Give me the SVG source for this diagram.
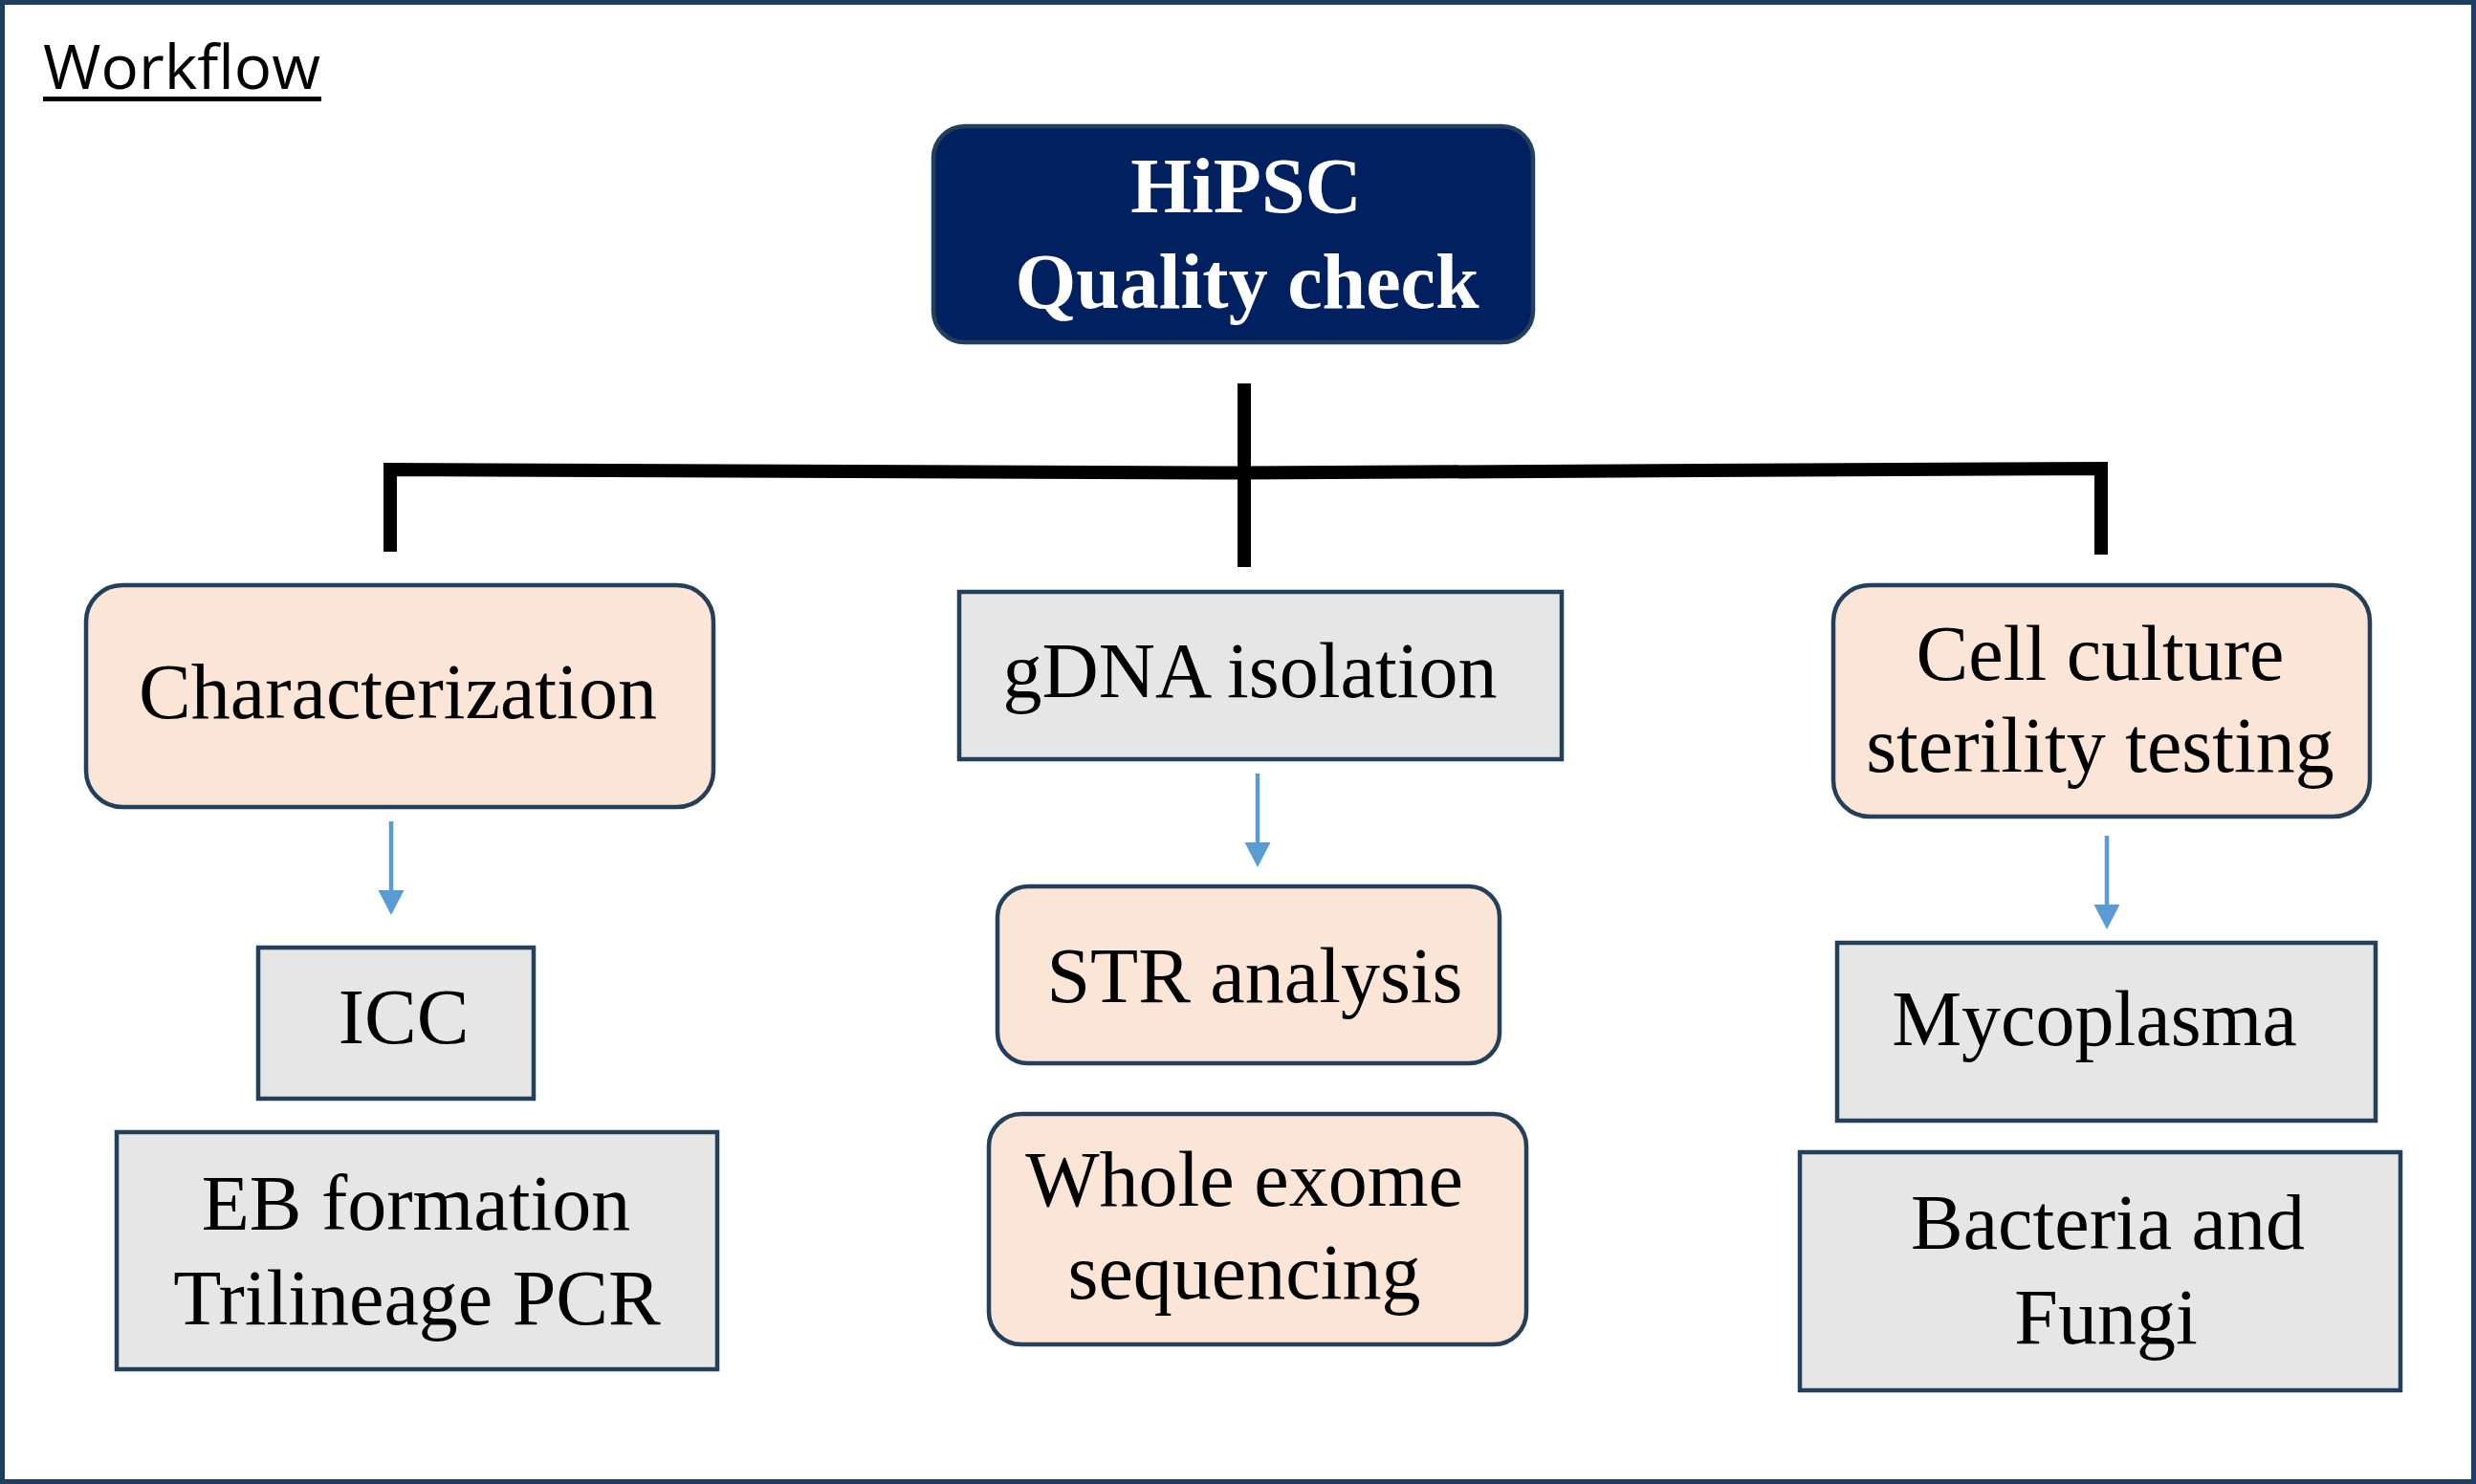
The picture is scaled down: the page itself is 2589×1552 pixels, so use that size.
<svg xmlns="http://www.w3.org/2000/svg" width="2589" height="1552" viewBox="0 0 2589 1552">
<style>
.box{stroke:#243f5a;stroke-width:4.5}
.peach{fill:#fbe5d6}
.gray{fill:#e6e6e6}
.t{font-family:"Liberation Serif","Times New Roman",serif;font-size:82px;fill:#000;text-anchor:middle}
.tb{font-family:"Liberation Serif","Times New Roman",serif;font-size:82px;font-weight:bold;fill:#fff;text-anchor:middle}
.bar{fill:none;stroke:#000;stroke-width:14;stroke-linejoin:miter}
.arr{stroke:#5b9bd5;stroke-width:4.5;fill:none}
</style>
<defs>
<marker id="ah" markerUnits="userSpaceOnUse" markerWidth="30" markerHeight="30" refX="0" refY="13.5" orient="auto">
<path d="M0,0 L26,13.5 L0,27 z" fill="#5b9bd5"/>
</marker>
</defs>
<rect x="0" y="0" width="2589" height="1552" fill="#fff"/>
<rect x="2.5" y="2.5" width="2584" height="1547" fill="none" stroke="#1f3d5c" stroke-width="5"/>
<g id="title">
<text x="45" y="93" font-family="'Open Sans',sans-serif" font-size="64" textLength="290" lengthAdjust="spacingAndGlyphs">Workflow</text>
<rect x="45" y="101" width="291" height="5" fill="#000"/>
</g>
<g id="connectors">
<line class="bar" x1="1301" y1="401" x2="1301" y2="593"/>
<polyline class="bar" points="408,577 408,491 1301,494.5 2197,490 2197,580"/>
<line class="arr" x1="409" y1="859" x2="409" y2="931" marker-end="url(#ah)"/>
<line class="arr" x1="1315" y1="809" x2="1315" y2="881" marker-end="url(#ah)"/>
<line class="arr" x1="2203" y1="874" x2="2203" y2="946" marker-end="url(#ah)"/>
</g>
<g id="hipsc">
<rect class="box" x="976" y="132" width="627" height="226" rx="33" fill="#002060"/>
<text class="tb" x="1303" y="222">HiPSC</text>
<text class="tb" x="1304" y="322">Quality check</text>
</g>
<g id="characterization">
<rect class="box peach" x="90" y="612" width="656" height="232" rx="38"/>
<text class="t" x="416" y="751">Characterization</text>
</g>
<g id="gdna">
<rect class="box gray" x="1003" y="619" width="630" height="175"/>
<text class="t" x="1307" y="729">gDNA isolation</text>
</g>
<g id="sterility">
<rect class="box peach" x="1917" y="612" width="561" height="242" rx="38"/>
<text class="t" x="2196" y="711">Cell culture</text>
<text class="t" x="2196" y="807">sterility testing</text>
</g>
<g id="icc">
<rect class="box gray" x="270" y="991" width="288" height="158"/>
<text class="t" x="422" y="1091">ICC</text>
</g>
<g id="eb">
<rect class="box gray" x="122" y="1184" width="628" height="248"/>
<text class="t" x="435" y="1286">EB formation</text>
<text class="t" x="436" y="1385">Trilineage PCR</text>
</g>
<g id="str">
<rect class="box peach" x="1043" y="927" width="525" height="185" rx="32"/>
<text class="t" x="1312" y="1048">STR analysis</text>
</g>
<g id="wes">
<rect class="box peach" x="1034" y="1165" width="562" height="241" rx="34"/>
<text class="t" x="1301" y="1261">Whole exome</text>
<text class="t" x="1301" y="1358">sequencing</text>
</g>
<g id="mycoplasma">
<rect class="box gray" x="1921" y="986" width="563" height="186"/>
<text class="t" x="2190" y="1093">Mycoplasma</text>
</g>
<g id="bacteria">
<rect class="box gray" x="1882" y="1205" width="628" height="249"/>
<text class="t" x="2204" y="1306">Bacteria and</text>
<text class="t" x="2202" y="1405">Fungi</text>
</g>
</svg>
